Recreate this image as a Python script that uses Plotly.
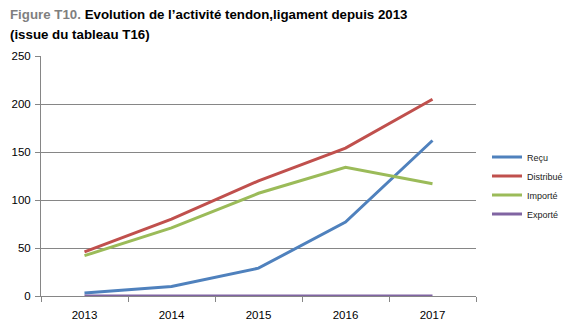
import plotly.graph_objects as go

years = ["2013", "2014", "2015", "2016", "2017"]
recu = [3, 10, 29, 77, 162]
distribue = [46, 80, 120, 154, 205]
importe = [42, 71, 107, 134, 117]
exporte = [0, 0, 0, 0, 0]

series_names = ["Reçu", "Distribué", "Importé", "Exporté"]
series_values = [recu, distribue, importe, exporte]
colors = ["#4F81BD", "#C0504D", "#9BBB59", "#8064A2"]

title_line1_prefix = "Figure T10."
title_line1 = "Evolution de l’activité tendon,ligament depuis 2013"
title_line2 = "(issue du tableau T16)"

fig = go.Figure()
for name, vals, col in zip(series_names, series_values, colors):
    fig.add_trace(go.Scatter(x=years, y=vals, name=name, mode="lines",
                             line=dict(color=col, width=3)))

W, H = 575, 330
L, R, T, B = 41, 99, 56, 34
PH = H - T - B
PW = W - L - R

def py(p):
    return (H - B - p) / PH

def px(p):
    return (p - L) / PW

FONT = "Liberation Sans, Arial, sans-serif"
fig.update_layout(
    width=W, height=H,
    margin=dict(l=L, r=R, t=T, b=B, autoexpand=False),
    paper_bgcolor="white", plot_bgcolor="white",
    font=dict(family=FONT, color="black"),
    showlegend=True,
    legend=dict(
        x=px(487), xanchor="left",
        y=py(185.5), yanchor="middle",
        font=dict(size=9, family=FONT, color="#222222"),
        bgcolor="rgba(0,0,0,0)", borderwidth=0,
        itemwidth=30,
    ),
    annotations=[
        dict(text="<b><span style='color:#7f7f7f'>" + title_line1_prefix + "</span> " + title_line1 + "</b>",
             x=px(8), y=py(15), xref="paper", yref="paper",
             xanchor="left", yanchor="middle", showarrow=False,
             font=dict(size=13.3, family=FONT, color="black")),
        dict(text="<b>" + title_line2 + "</b>",
             x=px(8), y=py(34), xref="paper", yref="paper",
             xanchor="left", yanchor="middle", showarrow=False,
             font=dict(size=13.3, family=FONT, color="black")),
    ],
)
fig.update_xaxes(
    type="category", range=[-0.5, 4.5], automargin=False,
    tickson="boundaries", ticks="outside", ticklen=5, tickcolor="#868686",
    showline=True, linecolor="#868686", linewidth=1,
    showgrid=False, zeroline=False,
    tickfont=dict(size=11.5), ticklabelstandoff=8,
)
fig.update_yaxes(
    range=[0, 250], dtick=50, automargin=False,
    ticks="outside", ticklen=5, tickcolor="#868686",
    showline=True, linecolor="#868686", linewidth=1,
    showgrid=True, gridcolor="#868686", gridwidth=1,
    zeroline=False,
    tickfont=dict(size=11.5), ticklabelstandoff=2,
)

fig.write_html("out.html")
